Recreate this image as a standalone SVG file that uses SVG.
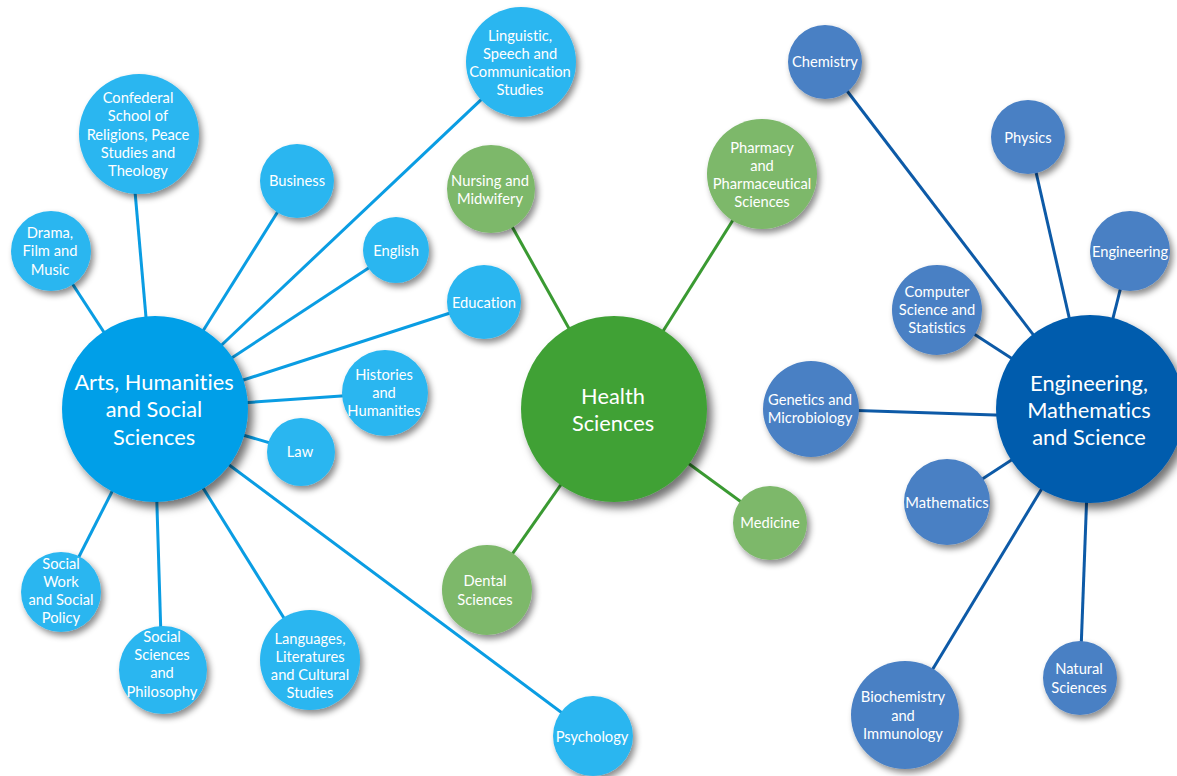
<svg xmlns="http://www.w3.org/2000/svg" width="1177" height="776" viewBox="0 0 1177 776">
<defs>
<filter id="sh" x="-30%" y="-30%" width="170%" height="170%">
<feDropShadow dx="3" dy="4" stdDeviation="3" flood-color="#000" flood-opacity="0.45"/>
</filter>
<filter id="shb" x="-30%" y="-30%" width="170%" height="170%">
<feDropShadow dx="5" dy="6" stdDeviation="4.5" flood-color="#000" flood-opacity="0.55"/>
</filter>
</defs>
<style>
text{font-family:Lato,"Open Sans","Liberation Sans",sans-serif;fill:#fff;text-anchor:middle;font-variant-ligatures:none}
.s{font-size:14.7px}
.h{font-size:21.8px}
.lb{fill:#2bb6f0;filter:url(#sh)}
.lg{fill:#7db86b;filter:url(#sh)}
.ld{fill:#4a80c4;filter:url(#sh)}
.hb{fill:#069fe8;filter:url(#shb)}
.hg{fill:#3fa136;filter:url(#shb)}
.hd{fill:#005cad;filter:url(#shb)}
.cb{stroke:#0a9de3;stroke-width:3;fill:none}
.cg{stroke:#3a9a32;stroke-width:3;fill:none}
.cd{stroke:#0d5aa7;stroke-width:3;fill:none}
</style>
<rect width="1177" height="776" fill="#fff"/>
<g id="connectors">
<line class="cb" x1="154" y1="409" x2="130" y2="134"/>
<line class="cb" x1="154" y1="409" x2="51" y2="251"/>
<line class="cb" x1="154" y1="409" x2="297" y2="181"/>
<line class="cb" x1="154" y1="409" x2="521" y2="62"/>
<line class="cb" x1="154" y1="409" x2="396" y2="250"/>
<line class="cb" x1="154" y1="409" x2="484" y2="302"/>
<line class="cb" x1="154" y1="409" x2="385" y2="393"/>
<line class="cb" x1="154" y1="409" x2="301" y2="452"/>
<line class="cb" x1="154" y1="409" x2="593" y2="736"/>
<line class="cb" x1="154" y1="409" x2="61" y2="592"/>
<line class="cb" x1="154" y1="409" x2="162" y2="670"/>
<line class="cb" x1="154" y1="409" x2="310" y2="660"/>
<line class="cg" x1="614" y1="409" x2="491" y2="189"/>
<line class="cg" x1="614" y1="409" x2="762" y2="174"/>
<line class="cg" x1="614" y1="409" x2="770" y2="523"/>
<line class="cg" x1="614" y1="409" x2="487" y2="590"/>
<line class="cd" x1="1090" y1="409" x2="825" y2="62"/>
<line class="cd" x1="1090" y1="409" x2="1028" y2="137"/>
<line class="cd" x1="1090" y1="409" x2="1130" y2="251"/>
<line class="cd" x1="1090" y1="409" x2="937" y2="310"/>
<line class="cd" x1="1090" y1="418" x2="811" y2="409"/>
<line class="cd" x1="1090" y1="409" x2="947" y2="502"/>
<line class="cd" x1="1090" y1="409" x2="905" y2="715"/>
<line class="cd" x1="1090" y1="409" x2="1080" y2="678"/>
</g>
<g id="confederal"><circle class="lb" cx="139" cy="134" r="60"/>
<text class="s"><tspan x="138" y="103">Confederal</tspan><tspan x="138" y="121">School of</tspan><tspan x="138" y="140">Religions, Peace</tspan><tspan x="138" y="158">Studies and</tspan><tspan x="138" y="176">Theology</tspan></text></g>
<g id="drama"><circle class="lb" cx="51" cy="251" r="40"/>
<text class="s"><tspan x="50" y="238">Drama,</tspan><tspan x="50" y="256">Film and</tspan><tspan x="50" y="275">Music</tspan></text></g>
<g id="business"><circle class="lb" cx="297" cy="181" r="37"/>
<text class="s"><tspan x="297" y="186">Business</tspan></text></g>
<g id="linguistic"><circle class="lb" cx="521" cy="62" r="55"/>
<text class="s"><tspan x="520" y="41">Linguistic,</tspan><tspan x="520" y="59">Speech and</tspan><tspan x="520" y="77">Communication</tspan><tspan x="520" y="95">Studies</tspan></text></g>
<g id="english"><circle class="lb" cx="396" cy="250" r="33"/>
<text class="s"><tspan x="396" y="256">English</tspan></text></g>
<g id="education"><circle class="lb" cx="484" cy="302" r="37"/>
<text class="s"><tspan x="484" y="308">Education</tspan></text></g>
<g id="histories"><circle class="lb" cx="385" cy="393" r="43"/>
<text class="s"><tspan x="384" y="380">Histories</tspan><tspan x="384" y="398">and</tspan><tspan x="384" y="416">Humanities</tspan></text></g>
<g id="law"><circle class="lb" cx="301" cy="452" r="34"/>
<text class="s"><tspan x="300" y="457">Law</tspan></text></g>
<g id="socialwork"><circle class="lb" cx="61" cy="592" r="40"/>
<text class="s"><tspan x="61" y="569">Social</tspan><tspan x="61" y="587">Work</tspan><tspan x="61" y="605">and Social</tspan><tspan x="61" y="623">Policy</tspan></text></g>
<g id="socialsciences"><circle class="lb" cx="163" cy="670" r="44"/>
<text class="s"><tspan x="162" y="642">Social</tspan><tspan x="162" y="660">Sciences</tspan><tspan x="162" y="678">and</tspan><tspan x="162" y="697">Philosophy</tspan></text></g>
<g id="languages"><circle class="lb" cx="310" cy="660" r="50"/>
<text class="s"><tspan x="310" y="644">Languages,</tspan><tspan x="310" y="662">Literatures</tspan><tspan x="310" y="680">and Cultural</tspan><tspan x="310" y="698">Studies</tspan></text></g>
<g id="psychology"><circle class="lb" cx="593" cy="736" r="40"/>
<text class="s"><tspan x="592" y="742">Psychology</tspan></text></g>
<g id="arts"><circle class="hb" cx="155" cy="409" r="93"/>
<text class="h"><tspan x="154" y="390">Arts, Humanities</tspan><tspan x="154" y="417">and Social</tspan><tspan x="154" y="445">Sciences</tspan></text></g>
<g id="nursing"><circle class="lg" cx="491" cy="189" r="44"/>
<text class="s"><tspan x="490" y="186">Nursing and</tspan><tspan x="490" y="204">Midwifery</tspan></text></g>
<g id="pharmacy"><circle class="lg" cx="762" cy="174" r="55"/>
<text class="s"><tspan x="762" y="153">Pharmacy</tspan><tspan x="762" y="171">and</tspan><tspan x="762" y="189">Pharmaceutical</tspan><tspan x="762" y="207">Sciences</tspan></text></g>
<g id="medicine"><circle class="lg" cx="770" cy="523" r="37"/>
<text class="s"><tspan x="770" y="528">Medicine</tspan></text></g>
<g id="dental"><circle class="lg" cx="487" cy="590" r="45"/>
<text class="s"><tspan x="485" y="586">Dental</tspan><tspan x="485" y="605">Sciences</tspan></text></g>
<g id="health"><circle class="hg" cx="614" cy="409" r="93"/>
<text class="h"><tspan x="613" y="404">Health</tspan><tspan x="613" y="431">Sciences</tspan></text></g>
<g id="chemistry"><circle class="ld" cx="825" cy="62" r="37"/>
<text class="s"><tspan x="825" y="67">Chemistry</tspan></text></g>
<g id="physics"><circle class="ld" cx="1028" cy="137" r="37"/>
<text class="s"><tspan x="1028" y="143">Physics</tspan></text></g>
<g id="engineering"><circle class="ld" cx="1130" cy="251" r="40"/>
<text class="s"><tspan x="1130" y="257">Engineering</tspan></text></g>
<g id="computer"><circle class="ld" cx="937" cy="310" r="45"/>
<text class="s"><tspan x="937" y="297">Computer</tspan><tspan x="937" y="315">Science and</tspan><tspan x="937" y="333">Statistics</tspan></text></g>
<g id="genetics"><circle class="ld" cx="811" cy="409" r="48"/>
<text class="s"><tspan x="810" y="405">Genetics and</tspan><tspan x="810" y="423">Microbiology</tspan></text></g>
<g id="mathematics"><circle class="ld" cx="947" cy="502" r="43"/>
<text class="s"><tspan x="947" y="508">Mathematics</tspan></text></g>
<g id="biochemistry"><circle class="ld" cx="905" cy="715" r="54"/>
<text class="s"><tspan x="903" y="702">Biochemistry</tspan><tspan x="903" y="721">and</tspan><tspan x="903" y="739">Immunology</tspan></text></g>
<g id="natural"><circle class="ld" cx="1080" cy="678" r="37"/>
<text class="s"><tspan x="1079" y="674">Natural</tspan><tspan x="1079" y="693">Sciences</tspan></text></g>
<g id="ems"><circle class="hd" cx="1090" cy="409" r="94"/>
<text class="h"><tspan x="1089" y="391">Engineering,</tspan><tspan x="1089" y="418">Mathematics</tspan><tspan x="1089" y="445">and Science</tspan></text></g>
</svg>
